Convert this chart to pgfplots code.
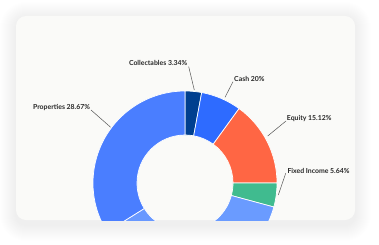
\documentclass[border=0pt]{standalone}
\usepackage{pgfplots}
\pgfplotsset{compat=1.18}
\usepackage{fontspec}
\setmainfont{Lato}
\definecolor{cardbg}{RGB}{250,250,248}
\definecolor{cCol}{RGB}{0,63,143}
\definecolor{cCash}{RGB}{46,107,255}
\definecolor{cEq}{RGB}{255,102,68}
\definecolor{cFix}{RGB}{64,187,143}
\definecolor{cLB}{RGB}{106,155,255}
\definecolor{cLBb}{RGB}{104,152,255}
\definecolor{cProp}{RGB}{74,126,255}
\definecolor{lbl}{RGB}{40,40,40}
\definecolor{lead}{RGB}{85,85,85}
\newcommand\lblfont{\fontsize{6.9}{7.5}\selectfont\bfseries}
\begin{document}
\begin{tikzpicture}[x=1pt,y=1pt]
\useasboundingbox (0,0) rectangle (379,244);
\fill[white] (0,0) rectangle (379,244);
\foreach \i in {1,...,16}{
  \pgfmathsetmacro\rr{10+\i}
  \fill[black,opacity=0.0055,rounded corners=\rr pt] (16-\i,19-\i) rectangle (355+\i,226+\i);
}
\fill[cardbg, rounded corners=10pt] (16,24) rectangle (355,228);
\begin{axis}[at={(16pt,24pt)}, anchor=south west,
  width=339pt, height=204pt, scale only axis,
  xmin=16, xmax=355, ymin=24, ymax=228,
  axis lines=none, ticks=none, clip=true]
% slice shares (percent of the full circle), clockwise from 12 o'clock
\gdef\sa{90}
\foreach \v/\c in {2.9/cCol, 7.1/cCash, 15.0/cEq, 4.2/cFix, 20.8/cLB, 16.1/cLBb, 33.9/cProp}{
  \pgfmathsetmacro\ea{\sa-3.6*\v}
  \pgfmathsetmacro\eb{\ea+180}
  \edef\temp{\noexpand\path[fill=\c, draw=white, line width=0.7pt] (axis cs:185,61) ++(\sa:92pt) arc[start angle=\sa, end angle=\ea, radius=92pt] -- ++(\eb:44pt) arc[start angle=\ea, end angle=\sa, radius=48pt] -- cycle;}
  \temp
  \xdef\sa{\ea}
}
\node[anchor=east, font=\lblfont, text=lbl, inner sep=0] at (axis cs:187.5,181) {Collectables 3.34\%};
\draw[lead, line width=0.5pt] (axis cs:188.7,177.3) -- (axis cs:194.3,154);
\node[anchor=west, font=\lblfont, text=lbl, inner sep=0] at (axis cs:234,165) {Cash 20\%};
\draw[lead, line width=0.5pt] (axis cs:233,162.3) -- (axis cs:225,146.7);
\node[anchor=west, font=\lblfont, text=lbl, inner sep=0] at (axis cs:286.7,125.7) {Equity 15.12\%};
\draw[lead, line width=0.5pt] (axis cs:286,123) -- (axis cs:267.7,108);
\node[anchor=west, font=\lblfont, text=lbl, inner sep=0] at (axis cs:287.3,73.3) {Fixed Income 5.64\%};
\draw[lead, line width=0.5pt] (axis cs:285.7,70.7) -- (axis cs:278.3,49);
\node[anchor=east, font=\lblfont, text=lbl, inner sep=0] at (axis cs:90.2,136.3) {Properties 28.67\%};
\draw[lead, line width=0.5pt] (axis cs:91,134) -- (axis cs:110.7,116.7);
\end{axis}
\end{tikzpicture}
\end{document}
